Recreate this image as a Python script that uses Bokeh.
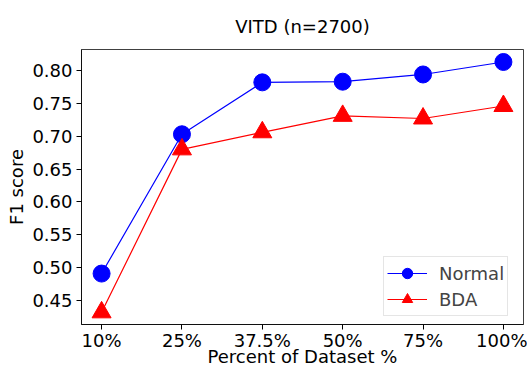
from bokeh.plotting import figure
from bokeh.models import FixedTicker, Range1d, Legend, LegendItem, Title
from bokeh.embed import file_html
from bokeh.resources import INLINE

categories = ["10%", "25%", "37.5%", "50%", "75%", "100%"]
normal = [0.491, 0.703, 0.782, 0.783, 0.794, 0.813]
bda = [0.432, 0.680, 0.706, 0.731, 0.727, 0.746]
y_ticks = [0.45, 0.50, 0.55, 0.60, 0.65, 0.70, 0.75, 0.80]

FONT = "DejaVu Sans"
x = list(range(len(categories)))

p = figure(frame_width=442, frame_height=275, output_backend="svg", toolbar_location=None,
           x_range=Range1d(-0.25, 5.25), y_range=Range1d(0.4135, 0.832),
           min_border_left=81, min_border_right=4, min_border_top=49, min_border_bottom=4)

p.title = Title(text="VITD (n=2700)", align="center", text_font=FONT,
                text_font_size="18px", text_font_style="normal", text_color="black",
                standoff=25)
p.xgrid.visible = False
p.ygrid.visible = False
p.outline_line_color = "black"
p.outline_line_alpha = 0.75

for ax in (p.xaxis[0], p.yaxis[0]):
    ax.major_label_text_font = FONT
    ax.major_label_text_font_size = "18px"
    ax.major_label_text_color = "black"
    ax.axis_label_text_font = FONT
    ax.axis_label_text_font_size = "18px"
    ax.axis_label_text_font_style = "normal"
    ax.axis_label_text_color = "black"
    ax.minor_tick_line_color = None
    ax.major_tick_out = 5
    ax.major_tick_in = 0
    ax.axis_line_color = "black"
    ax.axis_line_alpha = 0.75

p.xaxis.ticker = FixedTicker(ticks=x)
p.xaxis.major_label_overrides = {i: c for i, c in enumerate(categories)}
p.xaxis.axis_label = "Percent of Dataset %"
p.xaxis.axis_label_standoff = -8
p.xaxis.major_label_standoff = 0
p.yaxis.ticker = FixedTicker(ticks=y_ticks)
p.yaxis.major_label_overrides = {t: f"{t:.2f}" for t in y_ticks}
p.yaxis.axis_label = "F1 score"
p.yaxis.axis_label_standoff = 2
p.yaxis.major_label_standoff = 4

l1 = p.line(x, normal, line_color="blue", line_width=1.2)
m1 = p.scatter(x, normal, marker="circle", size=17, fill_color="blue", line_color="blue")
l2 = p.line(x, bda, line_color="red", line_width=1.2)
m2 = p.scatter(x, bda, marker="triangle", size=19, fill_color="red", line_color="red")

legend = Legend(items=[LegendItem(label="Normal", renderers=[l1, m1]),
                       LegendItem(label="BDA", renderers=[l2, m2])],
                location=(302, 8), label_text_font=FONT,
                label_text_font_size="18px", glyph_width=40, glyph_height=26,
                spacing=0, padding=3, margin=0, label_height=20,
                border_line_color="#cccccc", label_standoff=12)
p.add_layout(legend)

open("out.html", "w").write(file_html(p, INLINE))
